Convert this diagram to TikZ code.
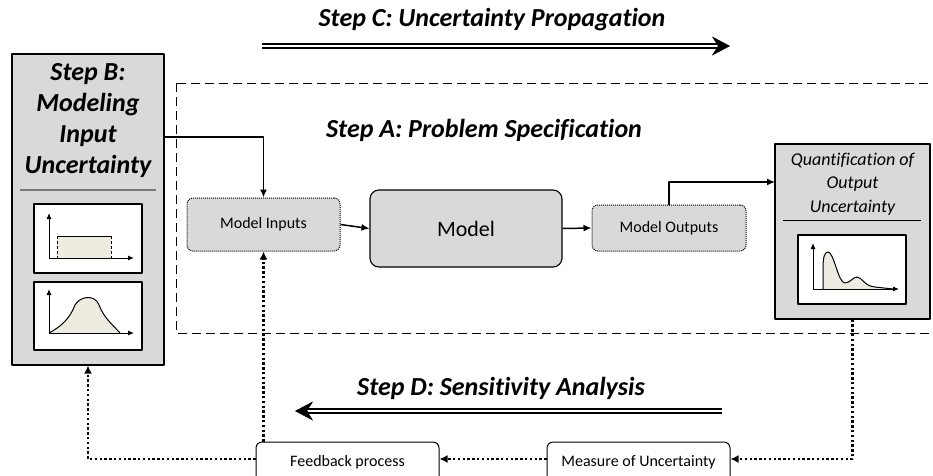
\documentclass[tikz,border=0pt]{standalone}
\usepackage{fontspec}
\setmainfont{Carlito}[Ligatures=NoCommon]
\usetikzlibrary{arrows.meta}

\definecolor{boxgray}{RGB}{217,217,217}
\definecolor{pdfbeige}{RGB}{238,236,225}
\definecolor{rulegray}{RGB}{120,120,120}

\begin{document}
\begin{tikzpicture}[x=1pt, y=-1pt, line width=1pt, line join=round,
  stepbox/.style={draw, fill=boxgray, line width=1.1pt, inner sep=0pt},
  plotbox/.style={draw, fill=white, line width=1.1pt, inner sep=0pt},
  dotbox/.style={draw, densely dotted, fill=boxgray, rounded corners=6pt, inner sep=0pt, font=\fontsize{16}{18}\selectfont},
  flowbox/.style={draw, fill=white, rounded corners=6pt, inner sep=0pt, font=\fontsize{16}{18}\selectfont},
  steptitle/.style={font=\fontsize{26}{31}\selectfont\bfseries\itshape, align=center, inner sep=0pt},
  flow/.style={line width=1.5pt, -{Latex[length=8pt,width=7pt]}},
  fb/.style={line width=2.4pt, dash pattern=on 2.4pt off 2.4pt, -{Latex[length=8pt,width=8pt]}},
  bigline/.style={line width=2.3pt, double, double distance=1.8pt},
  bigtip/.style={line width=0.5pt, -{Stealth[length=18pt,width=19pt,inset=6pt]}}]

  %% ════ 虚线框 Step A ════
  \draw[dashed, dash pattern=on 9pt off 5pt, line width=1pt] (176,83) rectangle (960,333);

  %% ════ 左侧 Step B 框 ════
  \node[stepbox, minimum width=152pt, minimum height=311pt] (stepB) at (88,209.5) {};
  \node[steptitle] (stepBtxt) at (88,121) {Step B:\\Modeling\\Input\\Uncertainty};
  \draw[rulegray, line width=1.5pt] (20,190) -- (156,190);
  \node[plotbox, minimum width=108pt, minimum height=69pt] (pdfA) at (88,238.5) {};
  \node[plotbox, minimum width=108pt, minimum height=68pt] (pdfB) at (88,316) {};

  % uniform
  \fill[pdfbeige] (57,236) rectangle (111,258);
  \draw (57,236) -- (111,236);
  \draw[densely dashed] (57,236) -- (57,258) (111,236) -- (111,258);
  \draw[-{Latex[length=6pt,width=5pt]}] (49,258) -- (49,213);
  \draw[-{Latex[length=6pt,width=5pt]}] (49,258) -- (134,258);

  % normal
  \fill[pdfbeige] (49,333) .. controls (62,326) and (70,318) .. (75,305) .. controls (80,296) and (95,294) .. (99,305) .. controls (104,318) and (112,324) .. (120,333) -- cycle;
  \draw (49,333) .. controls (62,326) and (70,318) .. (75,305) .. controls (80,296) and (95,294) .. (99,305) .. controls (104,318) and (112,324) .. (120,333);
  \draw[-{Latex[length=6pt,width=5pt]}] (49,333) -- (49,289);
  \draw[-{Latex[length=6pt,width=5pt]}] (49,333) -- (134,333);

  %% ════ 中间三框 ════
  \node[dotbox, minimum width=153pt, minimum height=53pt] (modelIn) at (263.5,224.5) {Model Inputs};
  \node[draw, fill=boxgray, rounded corners=9pt, line width=1.1pt, minimum width=192pt, minimum height=77pt,
        font=\fontsize{22}{26}\selectfont] (model) at (466,228.5) {Model};
  \node[dotbox, minimum width=154pt, minimum height=46pt] (modelOut) at (669,228) {Model Outputs};

  %% ════ 右侧输出框 ════
  \node[stepbox, minimum width=155pt, minimum height=175pt] (quant) at (852.5,231.5) {};
  \node[align=center, inner sep=0pt, font=\fontsize{18}{23.5}\selectfont\itshape] (quantTxt) at (852.5,184)
    {Quantification of\\Output\\Uncertainty};
  \draw[line width=1pt] (783,220) -- (921,220);
  \node[plotbox, minimum width=108pt, minimum height=69pt] (pdfC) at (852,269.5) {};
  \fill[pdfbeige] (823,289) -- (823,268) .. controls (823,256) and (825,252) .. (828,252)
    .. controls (834,252) and (838,283) .. (845,283) .. controls (850,283) and (853,277) .. (857,277)
    .. controls (862,277) and (864,286) .. (875,287) -- (893,289) -- cycle;
  \draw (823,289) -- (823,268) .. controls (823,256) and (825,252) .. (828,252)
    .. controls (834,252) and (838,283) .. (845,283) .. controls (850,283) and (853,277) .. (857,277)
    .. controls (862,277) and (864,286) .. (875,287) -- (893,289);
  \draw[-{Latex[length=6pt,width=5pt]}] (813,289) -- (813,243);
  \draw[-{Latex[length=6pt,width=5pt]}] (813,289) -- (899,289);

  %% ════ 下方反馈框 ════
  \node[flowbox, minimum width=183pt, minimum height=40pt] (feedback) at (347.5,462) {\raisebox{3pt}{Feedback process}};
  \node[flowbox, minimum width=183pt, minimum height=40pt] (measure) at (638.5,462) {\raisebox{3pt}{Measure of Uncertainty}};

  %% ════ 连线 ════
  \coordinate (bOut) at (164,137);
  \coordinate (qIn) at (775,182);
  \coordinate (loopY) at (0,459);
  \draw[flow] (bOut) -| (modelIn.north);
  \draw[flow] (modelIn.east) -- (model.west);
  \draw[flow] (model.east) -- (modelOut.west);
  \draw[flow] (modelOut.north) |- (qIn);

  \draw[fb] (quant.south) |- (measure.east |- loopY);
  \draw[fb] (measure.west |- loopY) -- (feedback.east |- loopY);
  \draw[fb] (feedback.west |- loopY) -| (stepB.south);
  \draw[fb] (feedback.north -| modelIn.south) -- (modelIn.south);

  %% ════ 大箭头与标题 ════
  \coordinate (cStart) at (262,46);
  \coordinate (cEnd) at (730,46);
  \coordinate (dStart) at (722,411);
  \coordinate (dEnd) at (295,411);
  \draw[bigline] (cStart) -- ([xshift=-10pt]cEnd);
  \draw[bigtip] ([xshift=-12pt]cEnd) -- (cEnd);
  \draw[bigline] (dStart) -- ([xshift=10pt]dEnd);
  \draw[bigtip] ([xshift=12pt]dEnd) -- (dEnd);
  \node[steptitle] (stepC) at (492,20) {Step C: Uncertainty Propagation};
  \node[steptitle] (stepA) at (484,130) {Step A: Problem Specification};
  \node[steptitle] (stepD) at (501,388) {Step D: Sensitivity Analysis};

  % 钉死画布
  \pgfresetboundingbox
  \path[use as bounding box] (0,0) rectangle (933,475);
\end{tikzpicture}
\end{document}
